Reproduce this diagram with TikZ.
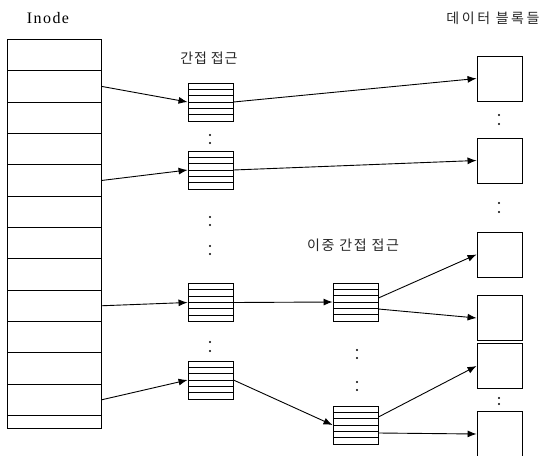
\documentclass[tikz,border=0pt]{standalone}
\usepackage{fontspec}
\setmainfont{Liberation Serif}
\newfontfamily\kor{Noto Sans CJK KR}
\usetikzlibrary{arrows.meta,calc}
\begin{document}
\begin{tikzpicture}[x=1pt,y=-1pt,
  line width=0.9pt,
  cell/.style={draw, rectangle, minimum width=94pt, anchor=north west, inner sep=0pt},
  ind/.style={draw, rectangle, minimum width=45pt, minimum height=38pt, inner sep=0pt,
    path picture={\foreach \k in {1,...,5}{\draw[line width=0.9pt]
      ($(path picture bounding box.north west)!\k/6!(path picture bounding box.south west)$) -- ++(60pt,0);}}},
  data/.style={draw, rectangle, minimum width=45pt, minimum height=45pt, inner sep=0pt},
  arr/.style={-{Latex[length=9pt,width=7pt]}},
  dot/.style={circle, fill, inner sep=0pt, minimum size=2.4pt},
  title/.style={inner sep=0pt, text=black!85}
]
\useasboundingbox (0,0) rectangle (550,456);

% titles
\node[inner sep=0pt, font=\fontsize{16}{18}\selectfont\addfontfeature{LetterSpace=9}] (tinode) at (48,18) {Inode};
\node[title, font=\kor\fontsize{14}{16}\selectfont\addfontfeature{LetterSpace=6}] (tind) at (209,58) {간접 접근};
\node[title, font=\kor\fontsize{14}{16}\selectfont\addfontfeature{LetterSpace=18}] (tdata) at (493,18) {데이터 블록들};
\node[title, font=\kor\fontsize{14}{16}\selectfont\addfontfeature{LetterSpace=12}] (tdbl) at (353,245) {이중 간접 접근};

% inode column
\foreach \i in {1,...,12}{
  \node[cell, minimum height=31.33pt] (r\i) at (7,{39+31.33*(\i-1)}) {};
}
\node[cell, minimum height=13pt] (r13) at (7,415) {};

% single indirect blocks
\node[ind] (i1) at (210.5,102) {};
\node[ind] (i2) at (210.5,170) {};
\node[ind] (i3) at (210.5,302.5) {};
\node[ind] (i4) at (210.5,380) {};

% double indirect blocks
\node[ind] (j1) at (355.5,302) {};
\node[ind] (j2) at (355.5,425) {};

% data blocks
\node[data] (d1) at (499.5,78.5) {};
\node[data] (d2) at (499.5,160.5) {};
\node[data] (d3) at (499.5,254.5) {};
\node[data] (d4) at (499.5,318) {};
\node[data] (d5) at (499.5,366) {};
\node[data] (d6) at (499.5,434) {};

% arrows inode -> indirect
\draw[arr] (r2.east) -- (i1.west);
\draw[arr] (r5.east) -- (i2.west);
\draw[arr] (r9.east) -- (i3.west);
\draw[arr] (r12.east) -- (i4.west);

% indirect -> data / double
\draw[arr] (i1.east) -- (d1.west);
\draw[arr] (i2.east) -- (d2.west);
\draw[arr] (i3.east) -- (j1.west);
\draw[arr] (i4.east) -- (j2.west);

% double -> data
\coordinate (j1a) at ($(j1.east)+(0,-4)$);
\coordinate (j1b) at ($(j1.east)+(0,7)$);
\coordinate (j2a) at ($(j2.east)+(0,-8)$);
\coordinate (j2b) at ($(j2.east)+(0,8)$);
\draw[arr] (j1a) -- (d3.west);
\draw[arr] (j1b) -- (d4.west);
\draw[arr] (j2a) -- (d5.west);
\draw[arr] (j2b) -- (d6.west);

% dots
\foreach \y [count=\n] in {135,143,217,225,246,254,342,351}{
  \node[dot] (pa\n) at (210,\y) {};
}
\foreach \y [count=\n] in {350,358,382,390}{
  \node[dot] (pb\n) at (357,\y) {};
}
\foreach \y [count=\n] in {115,124,203,212,398,404}{
  \node[dot] (pc\n) at (499,\y) {};
}
\end{tikzpicture}
\end{document}
